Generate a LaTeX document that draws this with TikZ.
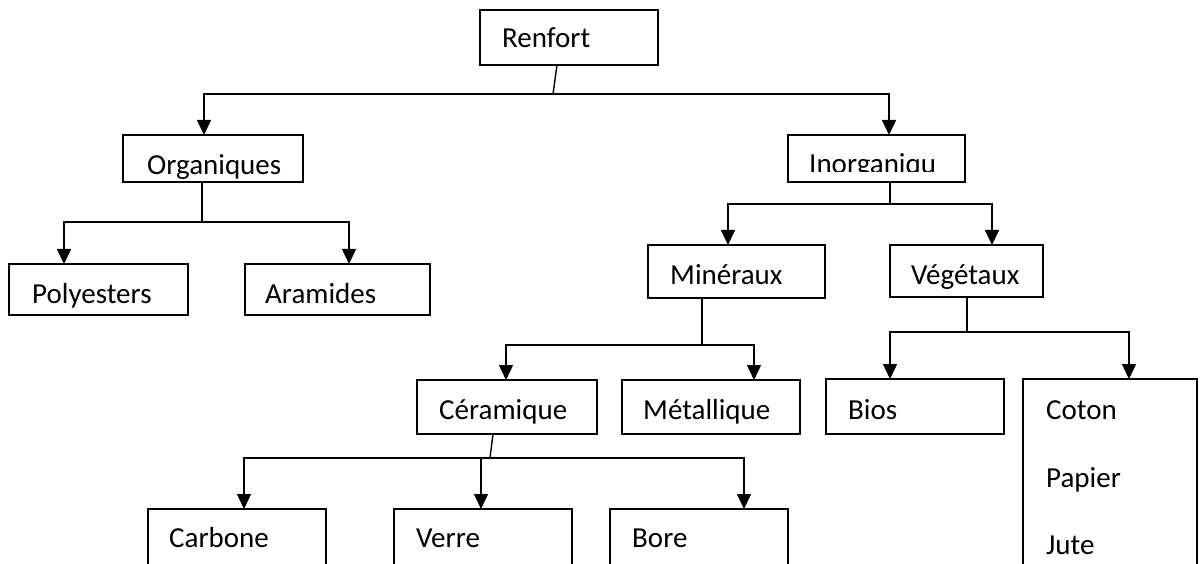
\documentclass[tikz,border=0pt]{standalone}
\usepackage{fontspec}
\setmainfont{Carlito}
\usetikzlibrary{arrows.meta}
\begin{document}
\begin{tikzpicture}[x=1pt,y=-1pt,
  box/.style={draw,line width=1.4pt,inner sep=0pt,outer sep=0pt,anchor=north west},
  txt/.style={anchor=base west,inner sep=0pt,font=\fontsize{29}{35}\selectfont},
  conn/.style={line width=1.4pt},
  arr/.style={line width=1.4pt,-{Triangle[length=15pt,width=14pt]}}]
\clip (0,0) rectangle (1200,564);
\fill[white] (0,0) rectangle (1200,564);
% boxes
\node[box,minimum width=178pt,minimum height=55pt] (ren) at (480,10) {};
\node[box,minimum width=180pt,minimum height=47pt] (org) at (123,135) {};
\node[box,minimum width=177pt,minimum height=47pt] (ino) at (788,135) {};
\node[box,minimum width=179pt,minimum height=51pt] (pol) at (9,264) {};
\node[box,minimum width=185pt,minimum height=51pt] (ara) at (245,264) {};
\node[box,minimum width=177pt,minimum height=53pt] (min) at (648,245) {};
\node[box,minimum width=153pt,minimum height=52pt] (veg) at (890,245) {};
\node[box,minimum width=180pt,minimum height=54pt] (cer) at (417,380) {};
\node[box,minimum width=178pt,minimum height=54pt] (met) at (622,380) {};
\node[box,minimum width=178pt,minimum height=55pt] (bio) at (826,379) {};
\node[box,minimum width=174pt,minimum height=240pt] (cot) at (1023,379) {};
\node[box,minimum width=178pt,minimum height=100pt] (car) at (148,509) {};
\node[box,minimum width=178pt,minimum height=100pt] (ver) at (394,509) {};
\node[box,minimum width=178pt,minimum height=100pt] (bor) at (610,509) {};
% texts
\node[txt] (ren-t) at (502,48) {Renfort};
\node[txt] (org-t) at (147,175) {Organiques};
\begin{scope}
\clip (788,135) rectangle (965,172);
\node[txt] (ino-t) at (809,174) {Inorganiqu};
\end{scope}
\node[txt] (pol-t) at (32,304) {Polyesters};
\node[txt] (ara-t) at (265,304) {Aramides};
\node[txt] (min-t) at (670,285) {Minéraux};
\node[txt] (veg-t) at (911,285) {Végétaux};
\node[txt] (cer-t) at (439,419) {Céramique};
\node[txt] (met-t) at (643,419) {Métallique};
\node[txt] (bio-t) at (848,419) {Bios};
\node[txt] (cot-t) at (1046,419) {Coton};
\node[txt] (pap-t) at (1046,487) {Papier};
\node[txt] (jut-t) at (1046,554) {Jute};
\node[txt] (car-t) at (169,547) {Carbone};
\node[txt] (ver-t) at (416,547) {Verre};
\node[txt] (bor-t) at (632,547) {Bore};
% junctions
\coordinate (jr) at (553,94);
\coordinate (jo) at (202,222);
\coordinate (ji) at (890,204);
\coordinate (jm) at (702,345);
\coordinate (jc) at (490,458);
\coordinate (jv) at (967,332);
% connectors
\draw[conn] ([xshift=-12pt]ren.south) -- (jr);
\draw[arr] (jr) -| ([xshift=-9pt]org.north);
\draw[arr] (jr) -| ([xshift=12.5pt]ino.north);
\draw[conn] ([xshift=-11pt]org.south) -- (jo);
\draw[arr] (jo) -| ([xshift=-34.5pt]pol.north);
\draw[arr] (jo) -| ([xshift=11.5pt]ara.north);
\draw[conn] ([xshift=13.5pt]ino.south) -- (ji);
\draw[arr] (ji) -| ([xshift=-8.5pt]min.north);
\draw[arr] (ji) -| ([xshift=25.5pt]veg.north);
\draw[conn] ([xshift=-34.5pt]min.south) -- (jm);
\draw[arr] (jm) -| ([xshift=-1pt]cer.north);
\draw[arr] (jm) -| ([xshift=43pt]met.north);
\draw[conn] ([xshift=-14pt]cer.south) -- (jc);
\draw[arr] (jc) -| ([xshift=7pt]car.north);
\draw[arr] (jc) -| ([xshift=-2pt]ver.north);
\draw[arr] (jc) -| ([xshift=45pt]bor.north);
\draw[conn] ([xshift=0.5pt]veg.south) -- (jv);
\draw[arr] (jv) -| ([xshift=-25pt]bio.north);
\draw[arr] (jv) -| ([xshift=19pt]cot.north);
\end{tikzpicture}
\end{document}
